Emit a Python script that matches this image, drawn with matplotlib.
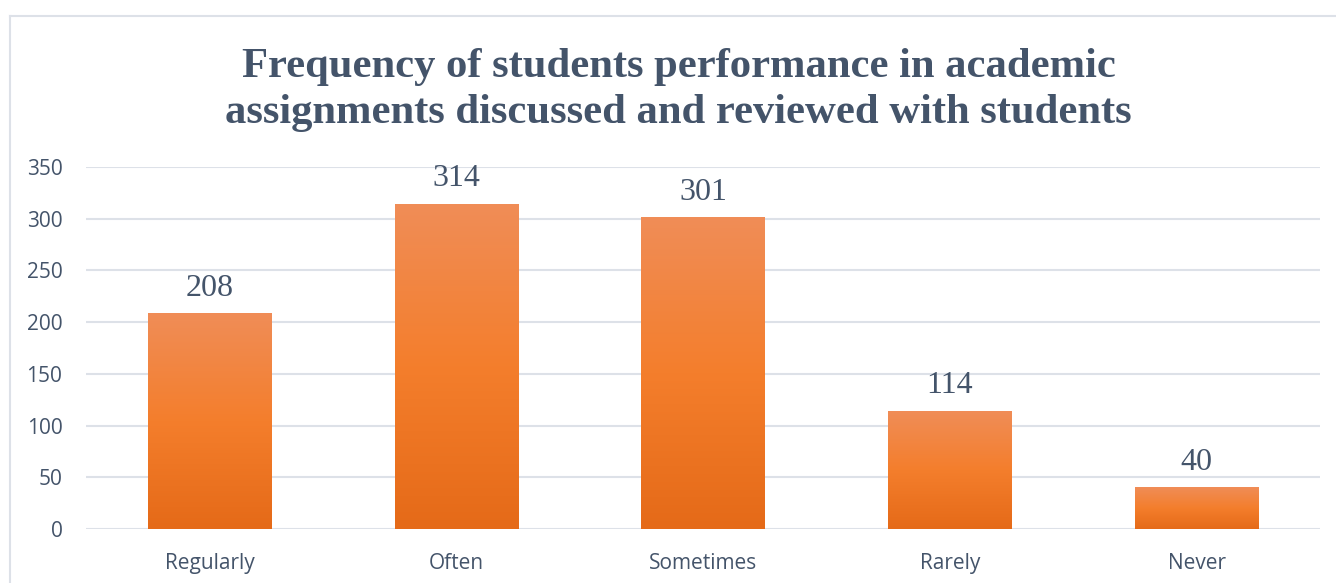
import matplotlib
matplotlib.use("Agg")
import matplotlib.pyplot as plt
import numpy as np
from matplotlib.colors import LinearSegmentedColormap
from matplotlib.lines import Line2D

categories = ["Regularly", "Often", "Sometimes", "Rarely", "Never"]
values = [208, 314, 301, 114, 40]
yticks = [0, 50, 100, 150, 200, 250, 300, 350]
title = "Frequency of students performance in academic\nassignments discussed and reviewed with students"

text_color = "#44546A"
grid_color = "#DDE1E8"

W, H = 1336, 583
fig = plt.figure(figsize=(W / 100, H / 100), dpi=100)
fig.patch.set_facecolor("white")

# outer chart border (partially visible)
fig.add_artist(Line2D([9.5 / W, 9.5 / W], [0, 1 - 16 / H], transform=fig.transFigure,
                      color=grid_color, lw=1.5))
fig.add_artist(Line2D([9.5 / W, 1], [1 - 16 / H, 1 - 16 / H], transform=fig.transFigure,
                      color=grid_color, lw=1.5))

ax = fig.add_axes([86 / W, 54 / H, (1320 - 86) / W, (529 - 167) / H])
x = np.arange(len(categories))

cmap = LinearSegmentedColormap.from_list("og", ["#E56A18", "#F47E2C", "#F08D57"])
grad = np.linspace(0, 1, 256).reshape(-1, 1)
bw = 0.5
bars = ax.bar(x, values, width=bw, color="none", zorder=2)
for b, v in zip(bars, values):
    x0 = b.get_x()
    ax.imshow(grad, extent=[x0, x0 + bw, 0, v], origin="lower", cmap=cmap,
              aspect="auto", zorder=2, interpolation="bilinear")
    ax.annotate(str(v), (b.get_x() + bw / 2, v), xytext=(0, 8), textcoords="offset points",
                ha="center", va="bottom", fontsize=23, color=text_color,
                family="Liberation Serif")
ax.set_xlim(-0.5, len(categories) - 0.5)
ax.set_ylim(0, 350)

ax.set_yticks(yticks)
ax.set_xticks(x)
ax.set_xticklabels(categories)
ax.yaxis.grid(True, color=grid_color, lw=1.5, zorder=0)
ax.set_axisbelow(True)
for s in ax.spines.values():
    s.set_visible(False)
ax.tick_params(axis="both", length=0, colors=text_color, labelsize=15)
ax.tick_params(axis="y", pad=17)
ax.tick_params(axis="x", pad=17)
for lab in ax.get_xticklabels() + ax.get_yticklabels():
    lab.set_family("Open Sans")
    lab.set_color(text_color)

fig.text(0.508, 1 - 90 / H, title, ha="center", va="center", fontsize=30.7,
         fontweight="bold", color=text_color, family="Liberation Serif", linespacing=1.3)

fig.savefig("out.png", dpi=100, facecolor="white")
